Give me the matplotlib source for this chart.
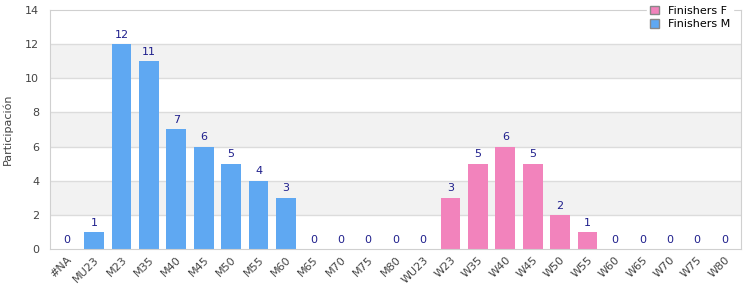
import matplotlib
matplotlib.use("Agg")
import matplotlib.pyplot as plt
from matplotlib.patches import Patch
import numpy as np

categories = ["#NA", "MU23", "M23", "M35", "M40", "M45", "M50", "M55", "M60", "M65",
              "M70", "M75", "M80", "WU23", "W23", "W35", "W40", "W45", "W50", "W55",
              "W60", "W65", "W70", "W75", "W80"]
finishers_m = [0, 1, 12, 11, 7, 6, 5, 4, 3, 0, 0, 0, 0, None, None, None, None,
               None, None, None, None, None, None, None, None]
finishers_f = [None, None, None, None, None, None, None, None, None, None, None, None, None,
               0, 3, 5, 6, 5, 2, 1, 0, 0, 0, 0, 0]

blue = "#5fa8f2"
pink = "#f283bc"
label_col = "#1f1f8c"

fig = plt.figure(figsize=(7.5, 3), dpi=100)
ax = fig.add_axes([0.067, 0.17, 0.921, 0.797])

x = np.arange(len(categories))
ymax = 14
for lo in range(0, ymax, 2):
    if (lo // 2) % 2 == 1:
        ax.axhspan(lo, lo + 2, color="#f2f2f2", zorder=0, lw=0)
for y in range(2, ymax, 2):
    ax.axhline(y, color="#dcdcdc", lw=1, zorder=1)

for vals, col in [(finishers_m, blue), (finishers_f, pink)]:
    for i, v in enumerate(vals):
        if v is None:
            continue
        ax.bar(x[i], v, width=0.72, color=col, zorder=2)
        ax.text(x[i], v + 0.25, str(v), ha="center", va="bottom",
                fontsize=8, color=label_col, zorder=3)

ax.set_xlim(-0.6, len(categories) - 0.4)
ax.set_ylim(0, ymax)
ax.set_yticks(range(0, ymax + 1, 2))
ax.set_xticks(x)
ax.set_xticklabels(categories, rotation=45, ha="right", rotation_mode="anchor",
                   fontsize=8, color="#444444")
ax.tick_params(axis="y", labelsize=8, labelcolor="#444444", length=0, pad=8)
ax.tick_params(axis="x", length=0, pad=4)
for s in ax.spines.values():
    s.set_color("#d0d0d0")
ax.set_ylabel("Participación", fontsize=8, color="#444444", labelpad=9)

handles = [Patch(facecolor=pink, edgecolor="#888888", label="Finishers F"),
           Patch(facecolor=blue, edgecolor="#888888", label="Finishers M")]
leg = fig.legend(handles=handles, loc="upper right", bbox_to_anchor=(0.985, 1.01),
                 fontsize=8, frameon=True, handlelength=0.8, handleheight=0.8,
                 borderpad=0.3, labelspacing=0.3, handletextpad=0.8)
leg.get_frame().set_edgecolor("white")
leg.get_frame().set_facecolor("white")
leg.get_frame().set_alpha(1)
leg.set_zorder(10)

fig.savefig("out.png", dpi=100)
